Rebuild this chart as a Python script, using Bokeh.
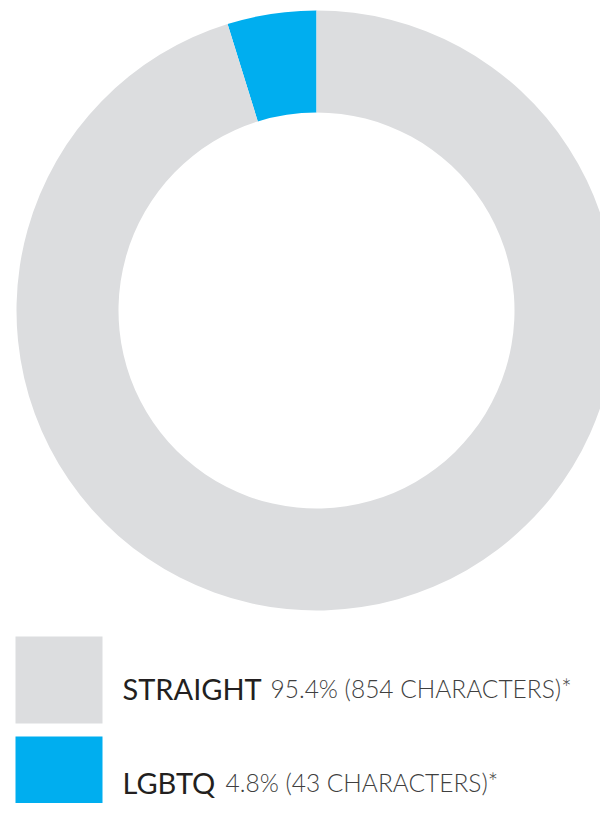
import math
from bokeh.plotting import figure
from bokeh.models import Range1d
from bokeh.core.properties import value
from bokeh.embed import file_html
from bokeh.resources import INLINE

# ---- data ----
categories = ["STRAIGHT", "LGBTQ"]
percents = [95.4, 4.8]
characters = [854, 43]
colors = ["#dcdddf", "#00aeef"]
details = [f"{p}% ({c} CHARACTERS)*" for p, c in zip(percents, characters)]

# ---- layout (picture pixel coordinates) ----
W, H = 600, 803
def Y(py):
    return H - py

p = figure(width=W, height=H, output_backend="svg", toolbar_location=None,
           x_range=Range1d(0, W), y_range=Range1d(0, H),
           x_axis_type=None, y_axis_type=None,
           min_border=0, min_border_left=0, min_border_right=0,
           min_border_top=0, min_border_bottom=0)
p.outline_line_color = None
p.grid.visible = False
p.background_fill_color = "white"
p.border_fill_color = "white"

# donut: start at 12 o'clock, LGBTQ first, anticlockwise
cx, cy = 316, Y(310)
total = sum(percents)
start = math.pi / 2
order = [1, 0]
for i in order:
    span = percents[i] / total * 2 * math.pi
    p.annular_wedge(x=cx, y=cy, inner_radius=198, outer_radius=300,
                    start_angle=start, end_angle=start + span,
                    direction="anticlock", fill_color=colors[i], line_color=None)
    start += span

# legend
rows_top = [636, 736]
sq = 87
baselines = [688, 782]
detail_x = [270, 225]
for i in range(len(categories)):
    p.quad(left=15, right=15 + sq, top=Y(rows_top[i]), bottom=Y(rows_top[i] + sq),
           fill_color=colors[i], line_color=None)
    p.text(x=[122], y=[Y(baselines[i])], text=[categories[i]],
           text_font=value("Lato"), text_font_size="29px", text_color="#231f20",
           text_baseline="alphabetic", text_align="left")
    p.text(x=[detail_x[i]], y=[Y(baselines[i])], text=[details[i]],
           text_font=value("'Lato Light', Lato"), text_font_size="24.5px", text_color="#3f3f3f",
           text_baseline="alphabetic", text_align="left")

open("out.html", "w").write(file_html(p, INLINE))
